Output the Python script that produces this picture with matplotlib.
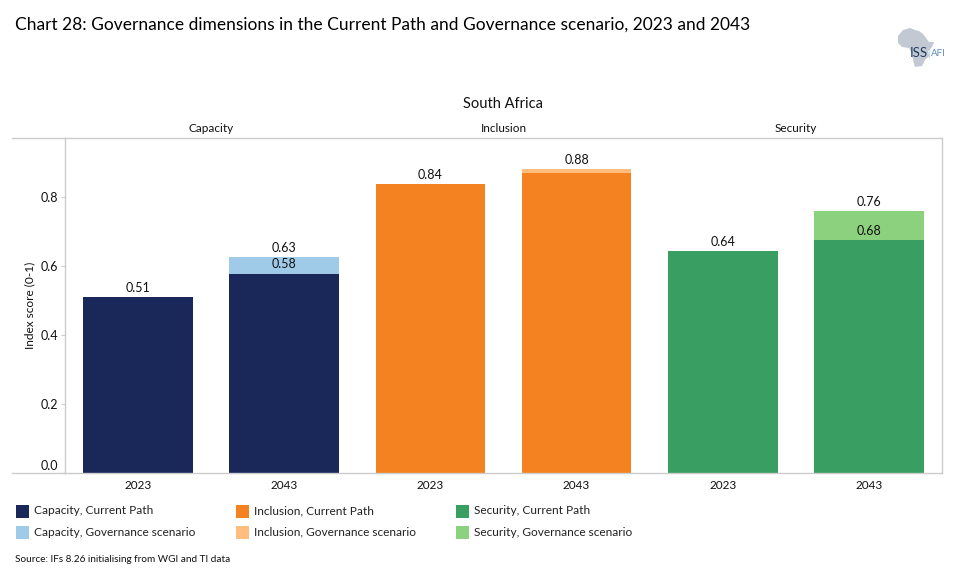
# Chart 28: Governance dimensions, South Africa
import matplotlib
matplotlib.use("Agg")
import matplotlib.pyplot as plt
from matplotlib.lines import Line2D
from matplotlib.patches import Polygon, Rectangle
from matplotlib.transforms import ScaledTranslation

plt.rcParams["font.family"] = ["Lato", "DejaVu Sans"]

# Data
years = ["2023", "2043", "2023", "2043", "2023", "2043"]
dimensions = ["Capacity", "Inclusion", "Security"]
current_path = [0.51, 0.577, 0.838, 0.87, 0.643, 0.675]
governance = [None, 0.626, None, 0.881, None, 0.759]
total_labels = ["0.51", "0.63", "0.84", "0.88", "0.64", "0.76"]
inner_labels = [None, "0.58", None, None, None, "0.68"]
y_ticks = [0.0, 0.2, 0.4, 0.6, 0.8]

legend_labels = [
    "Capacity, Current Path", "Capacity, Governance scenario",
    "Inclusion, Current Path", "Inclusion, Governance scenario",
    "Security, Current Path", "Security, Governance scenario",
]
dark_colors = ["#1A2859", "#F58220", "#389E62"]
light_colors = ["#A0CBE8", "#FFBE7D", "#8CD17D"]

text_col = "#111111"
line_col = "#CCCCCC"

W, H = 955, 584


def fx(px):
    return px / W


def fy(py):
    return 1 - py / H


fig = plt.figure(figsize=(W / 100, H / 100), dpi=100)
ax = fig.add_axes([fx(65), fy(473), fx(942 - 65), (473 - 138) / H])

# Bars
for i in range(6):
    group = i // 2
    if governance[i] is not None:
        ax.bar(i, governance[i], width=0.75, color=light_colors[group])
    ax.bar(i, current_path[i], width=0.75, color=dark_colors[group])
    top = governance[i] if governance[i] is not None else current_path[i]
    ax.text(i, top + 0.009, total_labels[i], ha="center", va="bottom",
            fontsize=9, color=text_col)
    if inner_labels[i] is not None:
        ax.text(i, current_path[i] + 0.010, inner_labels[i], ha="center",
                va="bottom", fontsize=9, color=text_col)

ax.set_xlim(-0.5, 5.5)
ax.set_ylim(0, 335 / 345)
ax.set_xticks(range(6))
ax.set_xticklabels(years, fontsize=8.5, color=text_col)
ax.set_yticks(y_ticks)
ax.set_yticklabels(["%.1f" % t for t in y_ticks], fontsize=9, color=text_col)
ax.tick_params(axis="x", length=0, pad=5)
ax.tick_params(axis="y", length=3, color=line_col, pad=2)
zero_label = ax.get_yticklabels()[0]
zero_label.set_verticalalignment("bottom")
zero_label.set_transform(zero_label.get_transform() + ScaledTranslation(0, 1 / 72, fig.dpi_scale_trans))
ax.set_ylabel("Index score (0-1)", fontsize=8.6, color=text_col, labelpad=4)
for s in ax.spines.values():
    s.set_color(line_col)
    s.set_linewidth(1.0)

# Header and bottom rules run out past the axis
fig.add_artist(Line2D([fx(12), fx(65)], [fy(138), fy(138)], color=line_col, lw=1.0))
fig.add_artist(Line2D([fx(12), fx(65)], [fy(473), fy(473)], color=line_col, lw=1.0))

# Titles
fig.text(fx(15), fy(25), "Chart 28: Governance dimensions in the Current Path and Governance scenario, 2023 and 2043",
         fontsize=12.5, color="#000000", va="center", ha="left")
fig.text(fx(503), fy(104), "South Africa", fontsize=10.5, color=text_col, ha="center", va="center")
for i, name in enumerate(dimensions):
    fig.text(fx(211 + i * 292.5), fy(128), name, fontsize=8.5, color=text_col, ha="center", va="center")

# Legend
for i, label in enumerate(legend_labels):
    col = i // 2
    row = i % 2
    x = 16 + col * 220
    y = 511 + row * 21
    c = dark_colors[col] if row == 0 else light_colors[col]
    fig.add_artist(Rectangle((fx(x), fy(y + 6.5)), 13 / W, 13 / H, color=c, lw=0,
                             transform=fig.transFigure))
    fig.text(fx(x + 18), fy(y), label, fontsize=8.6, color="#222222", va="center", ha="left")

fig.text(fx(15), fy(560), "Source: IFs 8.26 initialising from WGI and TI data",
         fontsize=7.2, color=text_col, va="center", ha="left")

# ISS AFI logo
africa = [(898, 36), (903, 30), (910, 28), (915, 30), (919, 31), (923, 34), (926, 38),
          (929, 42), (934, 42), (932, 47), (928, 51), (929, 56), (925, 60), (922, 66),
          (915, 67), (913, 60), (912, 54), (909, 48), (902, 47), (898, 43)]
fig.add_artist(Polygon([(fx(a), fy(b)) for a, b in africa], closed=True, color="#C3C9D3", lw=0,
                       transform=fig.transFigure))
fig.text(fx(910), fy(53), "ISS", fontsize=9.5, color="#1F3A5F", va="center", ha="left")
fig.text(fx(927.5), fy(53), "|", fontsize=7, color="#8DB4D8", va="center", ha="left")
fig.text(fx(931), fy(53), "AFI", fontsize=7, color="#5C8FBF", va="center", ha="left")

fig.savefig("out.png", dpi=100)
